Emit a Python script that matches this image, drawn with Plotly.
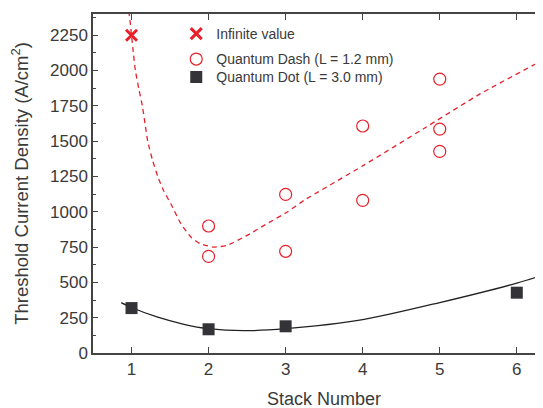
import plotly.graph_objects as go

# --- data ---
inf_x = [1]
inf_y = [2250]

dash_x = [2, 2, 3, 3, 4, 4, 5, 5, 5]
dash_y = [899, 684, 1123, 720, 1607, 1081, 1939, 1585, 1427]

dot_x = [1, 2, 3, 6]
dot_y = [318, 168, 189, 427]

# fitted guide curves
dash_fit_x = [0.965, 0.985, 1.0, 1.025, 1.05, 1.095, 1.14, 1.175, 1.21, 1.27, 1.34, 1.42, 1.51, 1.64, 1.77, 1.89, 2.07, 2.24, 2.50, 2.76, 3.02, 3.24, 4.01, 4.79, 5.53, 6.36]
dash_fit_y = [2420, 2330, 2250, 2120, 2000, 1870, 1750, 1625, 1500, 1370, 1250, 1145, 1057, 916, 821, 774, 750, 762, 833, 916, 998, 1081, 1328, 1588, 1836, 2080]

dot_fit_x = [0.866, 1.0, 1.33, 1.68, 2.0, 2.46, 3.0, 4.0, 5.0, 6.0, 6.36]
dot_fit_y = [357, 322, 255, 203, 172, 158, 172, 236, 357, 495, 555]

x_ticks = [1, 2, 3, 4, 5, 6]
y_ticks = [0, 250, 500, 750, 1000, 1250, 1500, 1750, 2000, 2250]

RED = "#e8202c"
DARK = "#333338"
TXT = "#3a3a3a"
AX = "#444444"

fig = go.Figure()

fig.add_trace(go.Scatter(x=dash_fit_x, y=dash_fit_y, mode="lines", line=dict(color=RED, width=1.3, dash="5px,4px", shape="spline", smoothing=0.5), showlegend=False, hoverinfo="skip"))
fig.add_trace(go.Scatter(x=dot_fit_x, y=dot_fit_y, mode="lines", line=dict(color="#222222", width=1.3, shape="spline", smoothing=0.8), showlegend=False, hoverinfo="skip"))

fig.add_trace(go.Scatter(x=inf_x, y=inf_y, mode="markers", name="Infinite value", legend="legend",
                         marker=dict(symbol="x-thin", size=11, line=dict(color=RED, width=3), color=RED)))
fig.add_trace(go.Scatter(x=dash_x, y=dash_y, mode="markers", name="Quantum Dash (L = 1.2 mm)", legend="legend2",
                         marker=dict(symbol="circle-open", size=12, line=dict(color=RED, width=1.2), color=RED)))
fig.add_trace(go.Scatter(x=dot_x, y=dot_y, mode="markers", name="Quantum Dot (L = 3.0 mm)", legend="legend3",
                         marker=dict(symbol="square", size=12, color=DARK, line=dict(width=0))))

font = "Liberation Sans, Arial, sans-serif"
leg = dict(xanchor="left", yanchor="middle", bgcolor="rgba(0,0,0,0)", font=dict(size=14, color=TXT), itemwidth=30)

# page body has an 8px margin; figure sized so it ends at the window edge
fig.update_layout(
    width=535, height=400,
    margin=dict(l=85, r=0, t=6, b=55),
    paper_bgcolor="white", plot_bgcolor="white",
    font=dict(family=font, color=TXT, size=17),
    legend=dict(x=0.185, y=0.941, **leg),
    legend2=dict(x=0.185, y=0.866, **leg),
    legend3=dict(x=0.185, y=0.813, **leg),
    xaxis=dict(range=[0.5, 6.34], tickvals=x_ticks, ticks="inside", ticklen=6, tickwidth=1.2, tickcolor=AX,
               showline=True, linecolor=AX, linewidth=1.5, mirror="ticks", showgrid=False, zeroline=False,
               automargin=False, tickfont=dict(size=17)),
    yaxis=dict(range=[0, 2400], tickvals=y_ticks, ticks="inside", ticklen=5, tickwidth=1.2, tickcolor=AX,
               showline=True, linecolor=AX, linewidth=1.5, mirror=False, showgrid=False, zeroline=False,
               automargin=False,
               minor=dict(dtick=125, ticks="inside", ticklen=3, tickcolor=AX, tickwidth=1.2),
               title=dict(text="Threshold Current Density (A/cm<sup>2</sup>)", font=dict(size=18.5), standoff=17),
               tickfont=dict(size=17)),
    annotations=[dict(text="Stack Number", xref="paper", yref="paper", x=0.513, y=-0.136,
                      xanchor="center", yanchor="middle", showarrow=False, font=dict(size=18, color=TXT))],
)

fig.write_html("out.html")
